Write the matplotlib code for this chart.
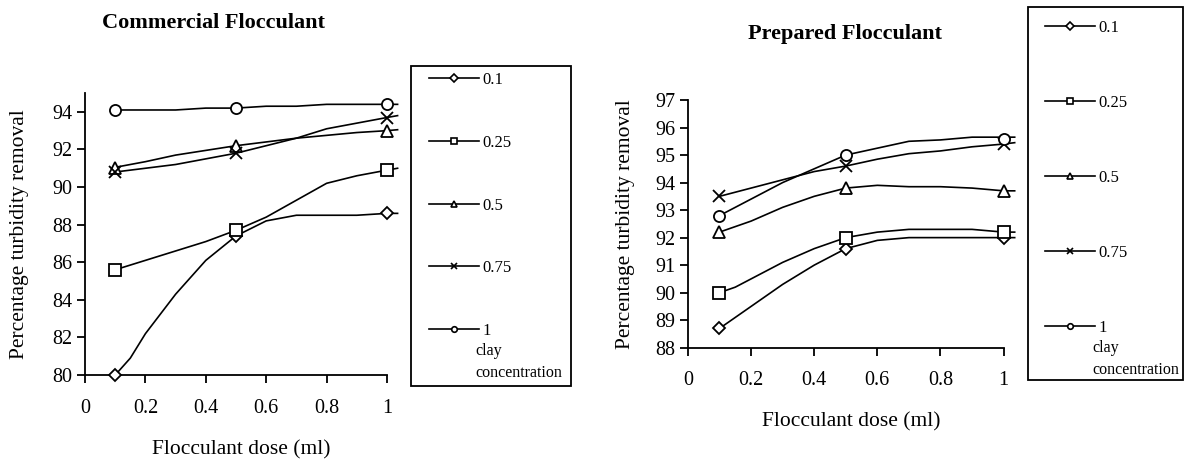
import matplotlib
matplotlib.use("Agg")
import matplotlib.pyplot as plt
from matplotlib.lines import Line2D
from matplotlib.patches import Rectangle

plt.rcParams['font.family'] = ['Liberation Serif', 'DejaVu Serif']

# measured doses (markers)
dose = [0.1, 0.5, 1.0]
clay = ['0.1', '0.25', '0.5', '0.75', '1']
markers = ['D', 's', '^', 'x', 'o']
msizes = [6, 8, 8, 9, 8]

# commercial flocculant, marker values
com_vals = [
    [80.0, 87.4, 88.6],
    [85.6, 87.7, 90.9],
    [91.0, 92.2, 93.0],
    [90.8, 91.8, 93.7],
    [94.1, 94.2, 94.4],
]
# prepared flocculant, marker values
prep_vals = [
    [88.7, 91.6, 92.0],
    [90.0, 92.0, 92.2],
    [92.2, 93.8, 93.7],
    [93.5, 94.6, 95.4],
    [92.8, 95.0, 95.6],
]

# smoothed curves as drawn in the original
curve_x = [0.1, 0.15, 0.2, 0.3, 0.4, 0.5, 0.6, 0.7, 0.8, 0.9, 1.0, 1.035]
com_curves = [
    [80.0, 80.9, 82.2, 84.3, 86.1, 87.4, 88.2, 88.5, 88.5, 88.5, 88.6, 88.6],
    [85.6, 85.85, 86.1, 86.6, 87.1, 87.7, 88.4, 89.3, 90.2, 90.6, 90.9, 91.0],
    [91.05, 91.2, 91.35, 91.7, 91.95, 92.2, 92.4, 92.6, 92.75, 92.9, 93.0, 93.05],
    [90.8, 90.9, 91.0, 91.2, 91.5, 91.8, 92.2, 92.6, 93.1, 93.4, 93.7, 93.8],
    [94.1, 94.1, 94.1, 94.1, 94.2, 94.2, 94.3, 94.3, 94.4, 94.4, 94.4, 94.4],
]
prep_curves = [
    [88.7, 89.1, 89.5, 90.3, 91.0, 91.6, 91.9, 92.0, 92.0, 92.0, 92.0, 92.0],
    [90.0, 90.2, 90.5, 91.1, 91.6, 92.0, 92.2, 92.3, 92.3, 92.3, 92.2, 92.2],
    [92.2, 92.4, 92.6, 93.1, 93.5, 93.8, 93.9, 93.85, 93.85, 93.8, 93.7, 93.7],
    [93.5, 93.65, 93.8, 94.1, 94.4, 94.6, 94.85, 95.05, 95.15, 95.3, 95.4, 95.45],
    [92.8, 93.1, 93.4, 94.0, 94.5, 95.0, 95.25, 95.5, 95.55, 95.65, 95.65, 95.65],
]

fig = plt.figure(figsize=(11.84, 4.63), dpi=100)
ax1 = fig.add_axes([0.0718, 0.190, 0.264, 0.609])
ax2 = fig.add_axes([0.581, 0.249, 0.276, 0.535])


def draw(ax, vals, curves, ylim, yticks, ylab_x, xlab_y):
    for v, c, m, s in zip(vals, curves, markers, msizes):
        ax.plot(curve_x, c, color='black', lw=1.2, clip_on=False)
        ax.plot(dose, v, linestyle='none', marker=m, ms=s, mfc='white',
                mec='black', mew=1.3, clip_on=False, zorder=3)
    ax.set_xlim(0, 1.035)
    ax.set_ylim(*ylim)
    ax.set_xticks([0, 0.2, 0.4, 0.6, 0.8, 1])
    ax.set_xticklabels(['0', '0.2', '0.4', '0.6', '0.8', '1'])
    ax.set_yticks(yticks)
    ax.spines['top'].set_visible(False)
    ax.spines['right'].set_visible(False)
    ax.spines['bottom'].set_bounds(0, 1)
    ax.spines['left'].set_linewidth(1.3)
    ax.spines['bottom'].set_linewidth(1.3)
    ax.tick_params(direction='out', length=6, width=1.3, labelsize=14.5, pad=3)
    ax.tick_params(axis='x', pad=11)
    ax.set_xlabel('Flocculant dose (ml)', fontsize=15.5)
    ax.set_ylabel('Percentage turbidity removal', fontsize=15.5)
    ax.yaxis.set_label_coords(ylab_x, 0.5)
    ax.xaxis.set_label_coords(0.5, xlab_y)


draw(ax1, com_vals, com_curves, (80, 95), [80, 82, 84, 86, 88, 90, 92, 94],
     -0.178, -0.23)
draw(ax2, prep_vals, prep_curves, (88, 97), list(range(88, 98)),
     -0.163, -0.26)

fig.text(0.180, 0.950, 'Commercial Flocculant', fontsize=16, fontweight='bold',
         ha='center', va='center')
fig.text(0.714, 0.927, 'Prepared Flocculant', fontsize=16, fontweight='bold',
         ha='center', va='center')

handles = [Line2D([], [], color='black', lw=1.2, marker=m, ms=4, mfc='white',
                  mec='black', mew=1.2) for m in markers]


def legend_box(x0, y0, x1, y1, anchor, spacing, clay_xy):
    fig.add_artist(Rectangle((x0, y0), x1 - x0, y1 - y0, transform=fig.transFigure,
                             fill=False, ec='black', lw=1.3))
    leg = fig.legend(handles, clay, loc='upper left', bbox_to_anchor=anchor,
                     frameon=False, fontsize=12, handlelength=3.0,
                     handletextpad=0.2, labelspacing=spacing, borderpad=0)
    fig.text(clay_xy[0], clay_xy[1], 'clay\nconcentration', fontsize=11.5,
             ha='left', va='center', linespacing=1.45)
    return leg


legend_box(411 / 1184, 1 - 386 / 463, 571 / 1184, 1 - 66 / 463,
           (421 / 1184, 1 - 64 / 463), 2.8, (475 / 1184, 1 - 362 / 463))
legend_box(1028 / 1184, 1 - 380 / 463, 1183 / 1184, 1 - 7 / 463,
           (1037 / 1184, 1 - 12 / 463), 3.53, (1092 / 1184, 1 - 359 / 463))

fig.savefig('out.png', dpi=100)
